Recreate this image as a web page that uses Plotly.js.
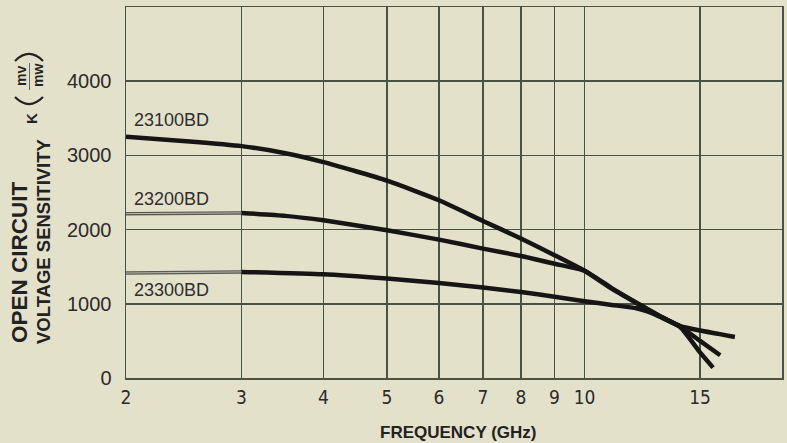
<!DOCTYPE html>
<html>
<head>
<meta charset="utf-8">
<script src="https://cdn.plot.ly/plotly-3.0.1.min.js"></script>
<style>html,body{margin:0;padding:0;background:#e4e1cb;}#chart{width:787px;height:443px;}</style>
</head>
<body>
<div id="chart"></div>
<script>
// ---- data ----
const seriesNames = ["23100BD", "23200BD", "23300BD"];

const freq100 = [2, 2.5, 3, 3.5, 4, 5, 6, 7, 8, 9, 10, 11, 12, 13, 14, 15, 15.7];
const k100    = [3250, 3188, 3125, 3030, 2910, 2660, 2395, 2117, 1880, 1655, 1445, 1205, 1010, 835, 685, 345, 140];

const freq200Lo = [2, 2.5, 3];
const k200Lo    = [2215, 2220, 2225];
const freq200 = [3, 3.5, 4, 5, 6, 7, 8, 9, 10, 11, 12, 13, 14, 15, 16.1];
const k200    = [2225, 2185, 2125, 1990, 1865, 1744, 1645, 1540, 1445, 1212, 1015, 840, 692, 500, 306];

const freq300Lo = [2, 2.5, 3];
const k300Lo    = [1415, 1422, 1430];
const freq300 = [3, 4, 5, 6, 7, 8, 9, 10, 11, 12, 12.5, 13, 14, 15, 16, 16.95];
const k300    = [1430, 1398, 1340, 1281, 1219, 1160, 1095, 1035, 985, 940, 895, 830, 700, 640, 595, 552];

const labelY = [3473, 2407, 1181];

const xTickVals = [2, 3, 4, 5, 6, 7, 8, 9, 10, 15];
const xTickText = ["2", "3", "4", "5", "6", "7", "8", "9", "10", "15"];
const yTickVals = [0, 1000, 2000, 3000, 4000];
const yTickText = ["0", "1000", "2000", "3000", "4000"];

// ---- layout geometry ----
const Wd = 787, Ht = 443;
const L = 126, R = 782, T = 7, B = 378;
const PW = R - L, PH = B - T;
const px = x => (x - L) / PW;
const py = y => (B - y) / PH;

const bg = "#e4e1cb";
const grid = "#485443";
const ink = "#151515";
const FONT = "Liberation Sans, Arial, sans-serif";
const COND = "DejaVu Sans Condensed, Liberation Sans, sans-serif";

function thick(x, y, name) {
  return {x: x, y: y, type: "scatter", mode: "lines", name: name,
    line: {color: ink, width: 4.5, shape: "spline", smoothing: 0.5}, hoverinfo: "skip"};
}
function thinDark(x, y) {
  return {x: x, y: y, type: "scatter", mode: "lines",
    line: {color: "#5a5a55", width: 3.5}, hoverinfo: "skip"};
}
function thinLight(x, y) {
  return {x: x, y: y, type: "scatter", mode: "lines",
    line: {color: "#b9b7a6", width: 1}, hoverinfo: "skip"};
}

const data = [
  thinDark(freq200Lo, k200Lo), thinLight(freq200Lo, k200Lo),
  thinDark(freq300Lo, k300Lo), thinLight(freq300Lo, k300Lo),
  thick(freq300, k300, seriesNames[2]),
  thick(freq200, k200, seriesNames[1]),
  thick(freq100, k100, seriesNames[0])
];

const annotations = [];
seriesNames.forEach((n, i) => {
  annotations.push({x: Math.log10(2), y: labelY[i], xref: "x", yref: "y", text: n,
    showarrow: false, xanchor: "left", yanchor: "middle", xshift: 6,
    font: {family: FONT, size: 18, color: "#2e2e2e"}});
});
// x-axis title
annotations.push({x: px(458), y: py(432), xref: "paper", yref: "paper", text: "<b>FREQUENCY (GHz)</b>",
  showarrow: false, xanchor: "center", yanchor: "middle",
  font: {family: FONT, size: 17, color: "#222"}});
// y-axis title, two lines, bottom-aligned
annotations.push({x: px(19), y: py(345), xref: "paper", yref: "paper", text: "<b>OPEN CIRCUIT</b>",
  showarrow: false, textangle: -90, xanchor: "center", yanchor: "bottom",
  font: {family: FONT, size: 22.5, color: "#222"}});
annotations.push({x: px(43), y: py(346), xref: "paper", yref: "paper", text: "<b>VOLTAGE SENSITIVITY</b>",
  showarrow: false, textangle: -90, xanchor: "center", yanchor: "bottom",
  font: {family: FONT, size: 18.5, color: "#222"}});
// K
annotations.push({x: px(31), y: py(119), xref: "paper", yref: "paper", text: "<b>K</b>",
  showarrow: false, textangle: -90, xanchor: "center", yanchor: "middle",
  font: {family: FONT, size: 15, color: "#222"}});
// (mv/mw)
annotations.push({x: px(21), y: py(76), xref: "paper", yref: "paper", text: "<b>mv</b>",
  showarrow: false, textangle: -90, xanchor: "center", yanchor: "middle",
  font: {family: FONT, size: 14, color: "#222"}});
annotations.push({x: px(38), y: py(76), xref: "paper", yref: "paper", text: "<b>mw</b>",
  showarrow: false, textangle: -90, xanchor: "center", yanchor: "middle",
  font: {family: FONT, size: 14, color: "#222"}});

const shapes = [
  {type: "line", xref: "paper", yref: "paper", x0: px(29.5), x1: px(29.5), y0: py(63), y1: py(90),
   line: {color: "#666", width: 1}},
  {type: "path", xref: "paper", yref: "paper",
   path: `M ${px(15)},${py(61)} Q ${px(29)},${py(47)} ${px(43)},${py(61)}`,
   line: {color: "#222", width: 2.2}},
  {type: "path", xref: "paper", yref: "paper",
   path: `M ${px(15)},${py(97)} Q ${px(29)},${py(111)} ${px(43)},${py(97)}`,
   line: {color: "#222", width: 2.2}}
];

const layout = {
  width: Wd, height: Ht,
  margin: {l: L, r: Wd - R, t: T, b: Ht - B, pad: 0},
  paper_bgcolor: bg, plot_bgcolor: bg,
  showlegend: false,
  xaxis: {
    type: "log", range: [Math.log10(2), Math.log10(20)],
    tickmode: "array", tickvals: xTickVals, ticktext: xTickText,
    showgrid: true, gridcolor: grid, gridwidth: 1.5,
    showline: true, linecolor: grid, linewidth: 1.5, mirror: true,
    ticks: "", ticklabelstandoff: 2, zeroline: false,
    tickfont: {family: COND, size: 19, color: "#2b2b2b"},
    fixedrange: true
  },
  yaxis: {
    range: [0, 5000],
    tickmode: "array", tickvals: yTickVals, ticktext: yTickText,
    showgrid: true, gridcolor: grid, gridwidth: 1.5,
    showline: true, linecolor: grid, linewidth: 1.5, mirror: true,
    ticks: "", ticklabelstandoff: 9, zeroline: false,
    tickfont: {family: FONT, size: 20, color: "#2b2b2b"},
    fixedrange: true
  },
  annotations: annotations,
  shapes: shapes
};

Plotly.newPlot("chart", data, layout, {staticPlot: true, displayModeBar: false});
</script>
</body>
</html>
